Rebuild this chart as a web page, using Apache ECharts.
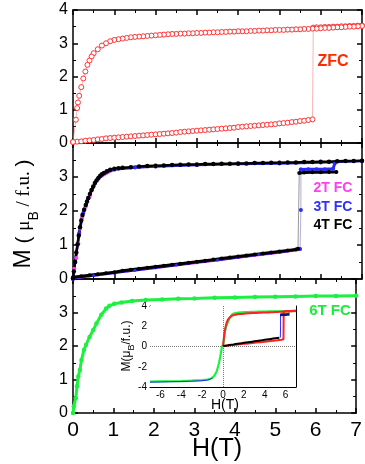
<!DOCTYPE html>
<html><head><meta charset="utf-8">
<script src="https://cdn.jsdelivr.net/npm/echarts@6/dist/echarts.min.js"></script>
<style>html,body{margin:0;padding:0;background:#fff}#c{width:365px;height:464px}</style>
</head><body><div id="c"></div>
<script>
// ---------- data ----------
const xTickLabels = [0,1,2,3,4,5,6,7];
const insetXTickLabels = [-6,-4,-2,0,2,4,6];
const insetXTicks = [-7,-6,-5,-4,-3,-2,-1,0,1,2,3,4,5,6,7];

// ZFC: virgin branch 0 -> 5.8 T, then jump and up to 7 T
const zfcVirginH = [0.0,0.1,0.2,0.3,0.4,0.5,0.6,0.7,0.8,0.9,1.0,1.1,1.2,1.3,1.4,1.5,1.6,1.7,1.8,1.9,2.0,2.1,2.2,2.3,2.4,2.5,2.6,2.7,2.8,2.9,3.0,3.1,3.2,3.3,3.4,3.5,3.6,3.7,3.8,3.9,4.0,4.1,4.2,4.3,4.4,4.5,4.6,4.7,4.8,4.9,5.0,5.1,5.2,5.3,5.4,5.5,5.6,5.7,5.8];
const zfcVirginM = [0.03,0.04,0.05,0.07,0.08,0.09,0.11,0.12,0.14,0.15,0.16,0.17,0.18,0.19,0.20,0.21,0.22,0.23,0.24,0.25,0.26,0.27,0.28,0.29,0.30,0.31,0.33,0.34,0.35,0.36,0.37,0.38,0.39,0.40,0.41,0.42,0.43,0.44,0.45,0.46,0.48,0.49,0.50,0.51,0.52,0.53,0.54,0.55,0.56,0.57,0.59,0.60,0.61,0.63,0.64,0.66,0.67,0.69,0.71];
const zfcJumpH = [5.82,5.9,6.0,6.1,6.2,6.3,6.4,6.5,6.6,6.7,6.8,6.9,7.0];
const zfcJumpM = [3.47,3.48,3.48,3.49,3.49,3.50,3.50,3.51,3.51,3.52,3.52,3.53,3.53];
// ZFC: descending branch 7 -> 0 T
const zfcDownH = [7.0,6.9,6.8,6.7,6.6,6.5,6.4,6.3,6.2,6.1,6.0,5.9,5.8,5.7,5.6,5.5,5.4,5.3,5.2,5.1,5.0,4.9,4.8,4.7,4.6,4.5,4.4,4.3,4.2,4.1,4.0,3.9,3.8,3.7,3.6,3.5,3.4,3.3,3.2,3.1,3.0,2.9,2.8,2.7,2.6,2.5,2.4,2.3,2.2,2.1,2.0,1.9,1.8,1.7,1.6,1.5,1.4,1.3,1.2,1.1,1.0,0.9,0.8,0.7,0.6,0.5,0.45,0.4,0.35,0.3,0.25,0.2,0.15,0.12,0.1,0.07,0.0];
const zfcDownM = [3.52,3.51,3.50,3.50,3.49,3.48,3.48,3.47,3.46,3.46,3.45,3.44,3.44,3.43,3.43,3.42,3.42,3.41,3.41,3.40,3.40,3.40,3.39,3.39,3.38,3.38,3.37,3.37,3.36,3.36,3.36,3.35,3.35,3.34,3.34,3.33,3.33,3.32,3.32,3.31,3.31,3.30,3.30,3.29,3.29,3.28,3.28,3.27,3.26,3.25,3.24,3.23,3.22,3.21,3.20,3.19,3.18,3.16,3.14,3.12,3.10,3.06,3.00,2.93,2.82,2.70,2.60,2.48,2.35,2.15,1.94,1.68,1.42,1.22,1.05,0.70,0.03];

// 4T FC (black)
const fc4LowH = [0,0.2,0.4,0.6,0.8,1.0,1.2,1.4,1.6,1.8,2.0,2.2,2.4,2.6,2.8,3.0,3.2,3.4,3.6,3.8,4.0,4.2,4.4,4.6,4.8,5.0,5.2,5.4,5.45];
const fc4LowM = [0.05,0.08,0.11,0.14,0.17,0.20,0.24,0.27,0.30,0.33,0.36,0.39,0.42,0.45,0.48,0.51,0.54,0.57,0.60,0.63,0.66,0.69,0.72,0.75,0.78,0.81,0.84,0.87,0.89];
const fc4FlatH = [5.48,5.6,5.8,6.0,6.2,6.38];
const fc4FlatM = [3.12,3.13,3.14,3.14,3.15,3.15];
const fc4UpH = [7.0,6.8,6.6,6.4,6.2,6.0,5.8,5.6,5.4,5.2,5.0,4.8,4.6,4.4,4.2,4.0,3.8,3.6,3.4,3.2,3.0,2.8,2.6,2.4,2.2,2.0,1.8,1.6,1.4,1.2,1.1,1.0,0.9,0.82,0.75,0.7,0.66,0.62,0.57,0.53,0.49,0.45,0.41,0.37,0.34,0.31,0.27,0.23,0.2,0.17,0.14,0.11,0.08,0.05,0.02,0];
const fc4UpM = [3.48,3.47,3.47,3.46,3.45,3.45,3.44,3.44,3.43,3.43,3.42,3.42,3.41,3.41,3.40,3.40,3.39,3.39,3.38,3.38,3.37,3.37,3.36,3.35,3.34,3.33,3.32,3.31,3.29,3.27,3.26,3.24,3.21,3.17,3.12,3.08,3.04,2.98,2.90,2.82,2.72,2.62,2.50,2.38,2.28,2.18,2.04,1.88,1.72,1.52,1.28,1.02,0.78,0.50,0.22,0.02];

// 3T FC (blue)
const fc3LowH = [0,0.5,1.0,1.5,2.0,2.5,3.0,3.5,4.0,4.5,5.0,5.5];
const fc3LowM = [0.03,0.10,0.18,0.26,0.33,0.41,0.49,0.56,0.64,0.72,0.79,0.88];
const fc3JumpH = [5.52];
const fc3JumpM = [2.03];
const fc3FlatH = [5.52,5.7,5.9,6.1,6.3,6.34];
const fc3FlatM = [3.22,3.23,3.23,3.23,3.24,3.40];
const fc3UpH = [7.0,6.0,5.0,4.0,3.0,2.0,1.5,1.0,0.8,0.6,0.45,0.37,0.25,0.15,0.05,0];
const fc3UpM = [3.47,3.43,3.40,3.38,3.35,3.31,3.28,3.22,3.14,2.95,2.62,2.37,1.95,1.35,0.49,0.0];
const fc3NegH = [-7,-6,-5,-4,-3,-2,-1.5,-1.2,-1.0];
const fc3NegM = [-3.52,-3.50,-3.48,-3.46,-3.43,-3.38,-3.32,-3.22,-3.10];

// 2T FC (magenta)
const fc2LowH = [0,1,2,3,4,5,5.45];
const fc2LowM = [0.02,0.18,0.33,0.48,0.63,0.78,0.86];
const fc2UpH = [7,5,3,2,1,0.6,0.4,0.3,0.22,0.17,0.13,0.08,0.03,0];
const fc2UpM = [3.47,3.42,3.36,3.31,3.22,2.93,2.42,2.12,1.80,1.48,1.04,0.62,0.30,0.0];

// 6T FC (green)
const g6H = [0,0.02,0.07,0.1,0.13,0.17,0.21,0.27,0.32,0.41,0.5,0.58,0.7,0.82,0.9,1.02,1.2,1.46,1.8,2.2,2.6,3.0,3.5,4.0,4.5,5.0,5.5,6.0,6.5,7.0];
const g6M = [0.0,0.2,0.45,0.8,1.09,1.28,1.58,1.88,2.03,2.27,2.48,2.67,2.93,3.12,3.20,3.26,3.30,3.34,3.37,3.39,3.41,3.42,3.44,3.45,3.46,3.47,3.48,3.49,3.49,3.50];
const g6NegH = [-7,-6,-5,-4,-3,-2,-1.5,-1.2,-1.0,-0.8,-0.6,-0.4,-0.25,-0.1];
const g6NegM = [-3.47,-3.45,-3.43,-3.41,-3.38,-3.33,-3.27,-3.18,-3.07,-2.85,-2.45,-1.70,-0.95,0.0];

// ---------- helpers ----------
const FONT = '"Liberation Sans", Arial, sans-serif';
const SERIF = '"Liberation Serif", "Times New Roman", serif';
const pts = (hs, ms) => hs.map((h, i) => [h, ms[i]]);
const last = (hs, ms) => [hs[hs.length-1], ms[ms.length-1]];
const first = (hs, ms) => [hs[0], ms[0]];

const RED = '#ff2020', BLUE = '#2a2aff', MAG = '#ff38ff', GREEN = '#1cf040', BLACK = '#000';
const AX = {color:'#000', width:1.5};

const grids = [
  {left:73, top:10, width:289, height:133},
  {left:73, top:143, width:289, height:136},
  {left:73, top:279, width:289, height:134},
  {left:150, top:306, width:146, height:81, show:true, backgroundColor:'#fff', borderWidth:0, z:5}
];

const xAxes = [], yAxes = [];
for (let g = 0; g < 3; g++) {
  ['bottom','top'].forEach(pos => {
    xAxes.push({type:'value', gridIndex:g, position:pos, min:0, max:7, interval:1,
      axisLine:{show:true, onZero:false, lineStyle:AX},
      axisTick:{show:true, inside:true, length:5, lineStyle:AX},
      minorTick:{show:true, splitNumber:2, length:3, lineStyle:{color:'#000', width:1}},
      splitLine:{show:false},
      axisLabel:{show: g===2 && pos==='bottom', fontSize:21, color:'#000', margin:7, fontFamily:FONT,
        formatter: v => String(xTickLabels[xTickLabels.indexOf(v)])}
    });
  });
  ['left','right'].forEach(pos => {
    yAxes.push({type:'value', gridIndex:g, position:pos, min:0, max:4, interval:1,
      axisLine:{show:true, onZero:false, lineStyle:AX},
      axisTick:{show:true, inside:true, length:5, lineStyle:AX},
      minorTick:{show:true, splitNumber:2, length:3, lineStyle:{color:'#000', width:1}},
      splitLine:{show:false},
      axisLabel:{show: pos==='left', showMaxLabel: g===0, fontSize:16, color:'#000', margin:5, fontFamily:FONT}
    });
  });
}
// inset axes
['bottom','top'].forEach(pos => {
  xAxes.push({type:'value', gridIndex:3, position:pos, min:-7, max:7,
    axisLine:{show:true, onZero:false, lineStyle:{color:'#000', width:1}},
    axisTick:{show:true, inside:true, length:3, customValues:insetXTicks, lineStyle:{color:'#000', width:1}},
    splitLine:{show:false},
    axisLabel:{show: pos==='bottom', customValues:insetXTickLabels, fontSize:10, color:'#000', margin:3, fontFamily:FONT}
  });
});
['left','right'].forEach(pos => {
  yAxes.push({type:'value', gridIndex:3, position:pos, min:-4, max:4, interval:2,
    axisLine:{show:true, onZero:false, lineStyle:{color:'#000', width:1}},
    axisTick:{show:true, inside:true, length:3, lineStyle:{color:'#000', width:1}},
    minorTick:{show:true, splitNumber:2, length:2, lineStyle:{color:'#000', width:1}},
    splitLine:{show:false},
    axisLabel:{show: pos==='left', fontSize:10, color:'#000', margin:3, fontFamily:FONT}
  });
});

function line(xi, data, color, o) {
  o = o || {};
  return Object.assign({
    type:'line', xAxisIndex:xi, yAxisIndex:xi, data:data,
    symbol: o.symbol || 'none', symbolSize: o.size || 4,
    showSymbol: !!o.symbol,
    itemStyle:{color: o.fill || color, borderColor: color, borderWidth: o.bw || 0},
    lineStyle:{color: o.lineColor || color, width: o.lw == null ? 1 : o.lw},
    animation:false, silent:true, z: o.z || 2
  }, o.extra || {});
}

const series = [
  // Panel 1: ZFC open circles
  line(0, pts(zfcVirginH.concat(zfcJumpH), zfcVirginM.concat(zfcJumpM)), RED, {symbol:'circle', size:5, fill:'#fff', bw:0.9, lw:0.6, lineColor:'#ff8080'}),
  line(0, pts(zfcDownH, zfcDownM), RED, {symbol:'circle', size:5, fill:'#fff', bw:0.9, lw:0.6, lineColor:'#ff8080'}),

  // Panel 2: 2T, 3T, 4T FC
  line(2, pts(fc2LowH, fc2LowM), MAG, {symbol:'circle', size:3, lw:2.5}),
  line(2, pts(fc2UpH, fc2UpM), MAG, {symbol:'circle', size:4, lw:1.5}),
  line(2, pts(fc3LowH, fc3LowM), BLUE, {symbol:'circle', size:3, lw:2.5}),
  line(2, pts(fc3UpH, fc3UpM), BLUE, {symbol:'circle', size:4, lw:2.5}),
  line(2, [last(fc4LowH, fc4LowM), first(fc4FlatH, fc4FlatM)], '#999', {lw:1}),
  line(2, [last(fc3LowH, fc3LowM)].concat(pts(fc3JumpH, fc3JumpM), [first(fc3FlatH, fc3FlatM)]), BLUE, {symbol:'circle', size:4, lw:0.8, lineColor:'#9a9ad0'}),
  line(2, pts(fc3FlatH, fc3FlatM), BLUE, {symbol:'circle', size:4, lw:3}),
  line(2, pts(fc4LowH, fc4LowM), BLACK, {symbol:'circle', size:4, lw:3}),
  line(2, pts(fc4FlatH, fc4FlatM), BLACK, {symbol:'circle', size:4, lw:3}),
  line(2, pts(fc4UpH, fc4UpM), BLACK, {symbol:'circle', size:4.5, lw:2.5}),

  // Panel 3: 6T FC
  line(4, pts(g6H, g6M), GREEN, {symbol:'circle', size:4.5, lw:3}),

  // Inset
  line(6, pts(g6NegH.concat(g6H), g6NegM.concat(g6M)), GREEN, {lw:2.2, z:6, extra:{
    markLine:{silent:true, symbol:'none', label:{show:false}, animation:false,
      lineStyle:{type:'dotted', color:'#777', width:1},
      data:[{xAxis:0},{yAxis:0}]}}}),
  line(6, pts(fc3NegH, fc3NegM), BLUE, {lw:1, z:6}),
  line(6, [last(fc3LowH, fc3LowM)].concat(pts(fc3JumpH, fc3JumpM), pts(fc3FlatH, fc3FlatM)), BLUE, {lw:1, z:6}),
  line(6, pts(zfcVirginH.concat(zfcJumpH), zfcVirginM.concat(zfcJumpM)), RED, {lw:2, z:7}),
  line(6, pts(zfcDownH, zfcDownM), RED, {lw:2, z:7}),
  line(6, pts(fc4LowH, fc4LowM), BLACK, {lw:2, z:8}),
  line(6, pts(fc4FlatH, fc4FlatM), '#001a80', {lw:2.5, z:8})
];

function txt(x, y, text, size, color, bold, rot, rich) {
  const st = {text:text, fill:color, font:(bold?'bold ':'') + size + 'px ' + FONT,
    align:'center', verticalAlign:'middle', textAlign:'center', textVerticalAlign:'middle'};
  if (rich) st.rich = rich;
  return {type:'text', x:x, y:y, rotation: rot || 0, z:20, style:st, silent:true};
}

const graphic = [
  txt(333, 62, 'ZFC', 16, '#ff2a00', true),
  txt(333, 188, '2T FC', 14, '#ff40f0', true),
  txt(333, 207, '3T FC', 14, '#3030ff', true),
  txt(333, 225, '4T FC', 14, '#000', true),
  txt(330, 311, '6T FC', 15, '#18ee3a', true),
  txt(217, 449, 'H(T)', 25, '#000', false),
  txt(225, 405, 'H(T)', 14, '#000', false),
  txt(24, 214, '{m|M}{p| ( }{u|μ}{b|B}{s| / f.u. }{p|)}', 20, '#000', false, Math.PI/2, {
    m:{fontSize:23, fontFamily:FONT, fill:'#000'},
    p:{fontSize:21, fontFamily:FONT, fill:'#000'},
    u:{fontSize:19, fontFamily:SERIF, fill:'#000'},
    s:{fontSize:19, fontFamily:SERIF, fill:'#000'},
    b:{fontSize:14, fontFamily:FONT, fill:'#000', padding:[20,0,0,0]}
  }),
  txt(127, 346, '{a|M(μ}{b|B}{a|/f.u.)}', 12, '#000', false, Math.PI/2, {
    a:{fontSize:12, fontFamily:FONT, fill:'#000'},
    b:{fontSize:9, fontFamily:FONT, fill:'#000', padding:[9,0,0,0]}
  })
];

const chart = echarts.init(document.getElementById('c'), null, {renderer:'canvas'});
chart.setOption({
  animation:false,
  backgroundColor:'#fff',
  grid: grids,
  xAxis: xAxes,
  yAxis: yAxes,
  series: series,
  graphic: graphic
});
</script></body></html>
